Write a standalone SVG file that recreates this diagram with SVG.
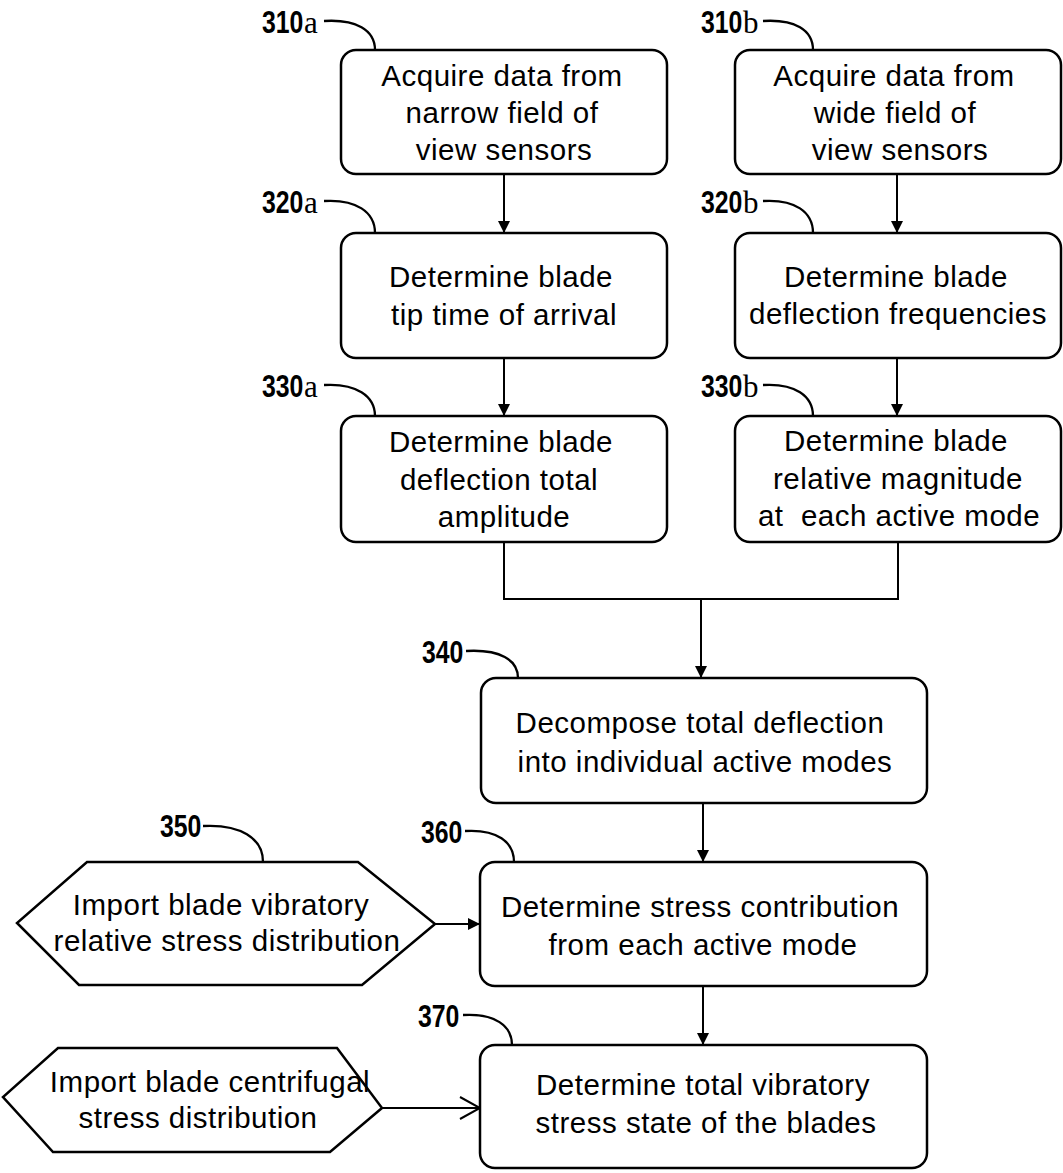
<svg xmlns="http://www.w3.org/2000/svg" width="1063" height="1173" viewBox="0 0 1063 1173">
<style>
.box{fill:#fff;stroke:#000;stroke-width:2.5}
.hex{fill:#fff;stroke:#000;stroke-width:2.5;stroke-linejoin:miter}
.t{font-family:"Liberation Sans",Arial,sans-serif;font-size:29.5px;letter-spacing:0.5px;text-anchor:middle;fill:#000;white-space:pre}
.num{font-family:"Liberation Sans",Arial,sans-serif;font-weight:bold;font-size:31px;fill:#000}
.suf{font-family:"Liberation Serif","Times New Roman",serif;font-size:31px;fill:#000}
.lead{fill:none;stroke:#000;stroke-width:2.3}
.conn{fill:none;stroke:#000;stroke-width:2}
</style>
<defs>
<marker id="arr" viewBox="0 0 12 12" refX="12" refY="6" markerWidth="12" markerHeight="12" markerUnits="userSpaceOnUse" orient="auto">
<path d="M0,0 L12,6 L0,12 z" fill="#000"/>
</marker>
<marker id="open" viewBox="0 0 24 26" refX="22" refY="13" markerWidth="24" markerHeight="26" markerUnits="userSpaceOnUse" orient="auto">
<path d="M2,2 L22,13 L2,24" fill="none" stroke="#000" stroke-width="2"/>
</marker>
</defs>
<rect width="1063" height="1173" fill="#fff"/>

<g id="connectors">
<line class="conn" x1="504" y1="175" x2="504" y2="233" marker-end="url(#arr)"/>
<line class="conn" x1="897" y1="175" x2="897" y2="233" marker-end="url(#arr)"/>
<line class="conn" x1="504" y1="358" x2="504" y2="416" marker-end="url(#arr)"/>
<line class="conn" x1="897" y1="358" x2="897" y2="416" marker-end="url(#arr)"/>
<polyline class="conn" points="504,542 504,599 898,599 898,542"/>
<line class="conn" x1="701" y1="599" x2="701" y2="678" marker-end="url(#arr)"/>
<line class="conn" x1="703" y1="803" x2="703" y2="862" marker-end="url(#arr)"/>
<line class="conn" x1="703" y1="986" x2="703" y2="1045" marker-end="url(#arr)"/>
<line class="conn" x1="435" y1="924" x2="480" y2="924" marker-end="url(#arr)"/>
<line class="conn" x1="382" y1="1108" x2="480" y2="1108" marker-end="url(#open)"/>
</g>

<g id="n310a">
<rect class="box" x="341" y="50" width="326" height="124" rx="15"/>
<text class="t" x="502" y="86">Acquire data from</text>
<text class="t" x="502" y="123">narrow field of</text>
<text class="t" x="504" y="160">view sensors</text>
<text class="num" transform="translate(262,33) scale(0.8,1)">310</text>
<text class="suf" x="304" y="33">a</text>
<path class="lead" d="M324,21 C356,19 375,30 375,50"/>
</g>

<g id="n310b">
<rect class="box" x="735" y="50" width="326" height="124" rx="15"/>
<text class="t" x="894" y="86">Acquire data from</text>
<text class="t" x="895" y="123">wide field of</text>
<text class="t" x="900" y="160">view sensors</text>
<text class="num" transform="translate(701,33) scale(0.8,1)">310</text>
<text class="suf" x="743" y="33">b</text>
<path class="lead" d="M763,21 C795,19 813,30 813,50"/>
</g>

<g id="n320a">
<rect class="box" x="341" y="233" width="326" height="125" rx="15"/>
<text class="t" x="501" y="287">Determine blade</text>
<text class="t" x="504" y="325">tip time of arrival</text>
<text class="num" transform="translate(262,213) scale(0.8,1)">320</text>
<text class="suf" x="304" y="213">a</text>
<path class="lead" d="M324,201 C356,199 375,212 375,233"/>
</g>

<g id="n320b">
<rect class="box" x="735" y="233" width="326" height="125" rx="15"/>
<text class="t" x="896" y="287">Determine blade</text>
<text class="t" x="898" y="324">deflection frequencies</text>
<text class="num" transform="translate(701,213) scale(0.8,1)">320</text>
<text class="suf" x="743" y="213">b</text>
<path class="lead" d="M763,201 C795,199 813,212 813,233"/>
</g>

<g id="n330a">
<rect class="box" x="341" y="416" width="326" height="126" rx="15"/>
<text class="t" x="501" y="452">Determine blade</text>
<text class="t" x="499" y="490">deflection total</text>
<text class="t" x="504" y="527">amplitude</text>
<text class="num" transform="translate(262,397) scale(0.8,1)">330</text>
<text class="suf" x="304" y="397">a</text>
<path class="lead" d="M324,385 C356,383 375,396 375,416"/>
</g>

<g id="n330b">
<rect class="box" x="735" y="416" width="326" height="126" rx="15"/>
<text class="t" x="896" y="451">Determine blade</text>
<text class="t" x="898" y="489">relative magnitude</text>
<text class="t" x="899" y="526">at  each active mode</text>
<text class="num" transform="translate(701,397) scale(0.8,1)">330</text>
<text class="suf" x="743" y="397">b</text>
<path class="lead" d="M763,385 C795,383 813,396 813,416"/>
</g>

<g id="n340">
<rect class="box" x="481" y="678" width="446" height="125" rx="15"/>
<text class="t" x="700" y="733">Decompose total deflection</text>
<text class="t" x="705" y="772">into individual active modes</text>
<text class="num" transform="translate(422,663) scale(0.8,1)">340</text>
<path class="lead" d="M466,651 C500,649 518,660 518,678"/>
</g>

<g id="n350">
<polygon class="hex" points="87,862 358,862 435,924 362,985 79,985 17,923"/>
<text class="t" x="221" y="915">Import blade vibratory</text>
<text class="t" x="227" y="951">relative stress distribution</text>
<text class="num" transform="translate(160,837) scale(0.8,1)">350</text>
<path class="lead" d="M203,826 C240,824 263,838 263,862"/>
</g>

<g id="n360">
<rect class="box" x="480" y="862" width="447" height="124" rx="15"/>
<text class="t" x="700" y="917">Determine stress contribution</text>
<text class="t" x="703" y="955">from each active mode</text>
<text class="num" transform="translate(421,843) scale(0.8,1)">360</text>
<path class="lead" d="M465,831 C497,829 514,842 514,862"/>
</g>

<g id="n_centrifugal">
<polygon class="hex" points="58,1048 337,1048 382,1108 330,1152 53,1152 3,1097"/>
<text class="t" x="210" y="1092">Import blade centrifugal</text>
<text class="t" x="198" y="1128">stress distribution</text>
</g>

<g id="n370">
<rect class="box" x="480" y="1045" width="447" height="123" rx="15"/>
<text class="t" x="703" y="1095">Determine total vibratory</text>
<text class="t" x="706" y="1133">stress state of the blades</text>
<text class="num" transform="translate(418,1027) scale(0.8,1)">370</text>
<path class="lead" d="M463,1015 C495,1013 512,1026 512,1045"/>
</g>
</svg>
